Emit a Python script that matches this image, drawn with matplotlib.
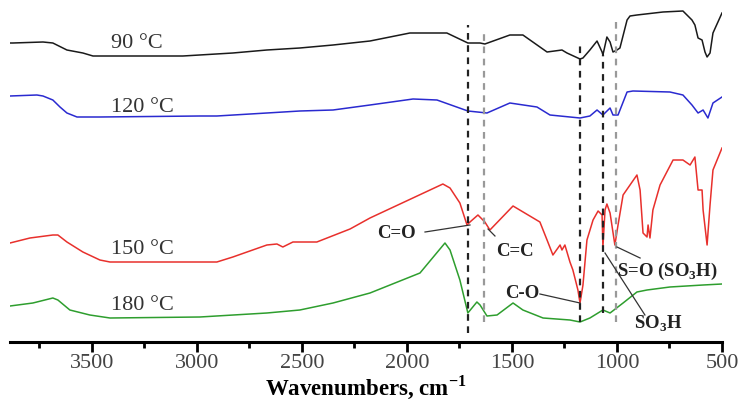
import matplotlib
matplotlib.use('Agg')
from matplotlib import pyplot as plt
from matplotlib.ticker import MultipleLocator

# FTIR spectra, offset traces (arbitrary units)
wn_90 = [3890, 3876, 3733, 3686, 3619, 3543, 3495, 3067, 2829, 2667, 2510, 2352, 2176, 1986,
         1810, 1710, 1652, 1629, 1510, 1448, 1333, 1262, 1238, 1176, 1162, 1129, 1095, 1071,
         1067, 1048, 1033, 1019, 1000, 986, 952, 938, 905, 781, 686, 643, 629, 614, 595, 581,
         571, 557, 543, 500]
t_90 = [299, 299, 300, 299, 292, 289, 286, 286, 289, 292, 294, 297, 301, 309,
        309, 299, 299, 298, 307, 307, 290, 292, 289, 283, 284, 292, 301, 290,
        287, 305, 300, 290, 292, 294, 322, 326, 327, 330, 331, 322, 317, 304, 302, 290,
        285, 289, 309, 329]

wn_120 = [3890, 3762, 3733, 3686, 3652, 3619, 3571, 3462, 2986, 2905, 2667, 2510, 2352, 2176,
          1971, 1857, 1710, 1619, 1510, 1381, 1319, 1176, 1129, 1095, 1067, 1033, 1019, 995,
          952, 924, 748, 686, 643, 614, 590, 567, 543, 500]
t_120 = [246, 247, 246, 242, 235, 229, 225, 225, 226, 226, 229, 231, 232, 237,
         243, 242, 231, 229, 239, 235, 227, 224, 226, 232, 227, 234, 227, 227,
         250, 251, 250, 247, 237, 229, 232, 224, 239, 245]

wn_150 = [3890, 3795, 3686, 3662, 3619, 3543, 3462, 3414, 3033, 2905, 2829, 2667, 2619, 2591,
          2543, 2429, 2271, 2176, 1829, 1795, 1748, 1714, 1700, 1662, 1629, 1605, 1495, 1367,
          1333, 1305, 1271, 1262, 1248, 1224, 1210, 1186, 1176, 1162, 1143, 1114, 1090, 1071,
          1067, 1057, 1048, 1033, 1010, 995, 971, 905, 890, 876, 857, 852, 843, 829, 795,
          733, 686, 652, 629, 614, 595, 590, 571, 557, 543, 500]
t_150 = [99, 104, 107, 107, 100, 90, 82, 80, 80, 80, 85, 97, 98, 95,
         100, 100, 113, 124, 158, 154, 139, 117, 120, 127, 120, 112, 136, 120,
         102, 87, 97, 92, 97, 80, 72, 52, 39, 57, 102, 122, 131, 127,
         95, 132, 138, 129, 97, 117, 147, 167, 152, 109, 105, 117, 104, 132, 157,
         182, 182, 177, 185, 152, 152, 132, 97, 137, 172, 194]

wn_180 = [3890, 3781, 3686, 3662, 3605, 3510, 3414, 2986, 2667, 2510, 2352, 2176, 1938, 1819,
          1795, 1748, 1710, 1667, 1652, 1619, 1571, 1495, 1448, 1352, 1224, 1176, 1129, 1067,
          1033, 971, 905, 857, 748, 590, 500]
t_180 = [36, 39, 44, 42, 32, 27, 24, 25, 29, 32, 39, 49, 69, 99,
         92, 62, 29, 40, 37, 26, 27, 39, 32, 24, 22, 20, 24, 32,
         29, 39, 50, 52, 55, 57, 58]

# band markers: position, y range, colour
band_pos = [1710, 1635, 1176, 1067, 1005]
band_lo = [9, 20, 20, 29, 20]
band_hi = [317, 312, 300, 287, 322]
band_col = ['#222222', '#999999', '#222222', '#222222', '#999999']

plt.rcParams['font.family'] = ['Liberation Serif', 'DejaVu Serif']
plt.rcParams['mathtext.fontset'] = 'custom'
plt.rcParams['mathtext.rm'] = 'Liberation Serif'
plt.rcParams['mathtext.bf'] = 'Liberation Serif:bold'

fig = plt.figure(figsize=(7.41, 4.0), dpi=100)
ax = fig.add_axes([10/741, 58/400, 712/741, 342/400])

ax.plot(wn_90, t_90, color='#1a1a1a', lw=1.1)
ax.plot(wn_120, t_120, color='#2a2ad0', lw=1.1)
ax.plot(wn_150, t_150, color='#e8302c', lw=1.1)
ax.plot(wn_180, t_180, color='#2e9e2e', lw=1.1)

for p, lo, hi, c in zip(band_pos, band_lo, band_hi, band_col):
    ax.plot([p, p], [lo, hi], color=c, lw=1.6, ls=(0, (3, 2.5)))

# temperature labels
for lab, yy in zip(['90 °C', '120 °C', '150 °C', '180 °C'], [298, 235, 92, 36]):
    ax.text(3410, yy, lab, fontsize=16, color='#333333', va='center', ha='left')

# peak assignments
ann = dict(fontsize=13.5, fontweight='bold', color='#222222', va='center')
lk = dict(color='#333333', lw=0.9)
ax.text(2052, 108, 'C=O', ha='center', **ann)
ax.plot([1914, 1700], [110, 117], **lk)
ax.text(1486, 90, 'C=C', ha='center', **ann)
ax.plot([1614, 1581], [113, 106], **lk)
ax.text(1452, 49, 'C-O', ha='center', **ann)
ax.plot([1367, 1176], [48, 39], **lk)
ax.text(1000, 71, 'S=O (SO$_\\mathbf{3}$H)', ha='left', **ann)
ax.plot([1000, 890], [95, 84], **lk)
ax.text(805, 18, 'SO$_\\mathbf{3}$H', ha='center', **ann)
ax.plot([1057, 867], [89, 27], **lk)

ax.set_xlim(3890, 500)
ax.set_ylim(0, 342)
ax.xaxis.set_major_locator(MultipleLocator(500))
ax.xaxis.set_minor_locator(MultipleLocator(250))
for s in ['top', 'right', 'left']:
    ax.spines[s].set_visible(False)
ax.spines['bottom'].set_linewidth(2.2)
ax.set_yticks([])
ax.tick_params(axis='x', which='major', length=7, width=2, labelsize=16, labelcolor='#444444', pad=2)
ax.tick_params(axis='x', which='minor', length=4, width=2)
ax.set_xlabel('Wavenumbers, cm$^{\\mathbf{-1}}$', fontsize=16.5, fontweight='bold', labelpad=0)

fig.savefig('out.png', dpi=100)
